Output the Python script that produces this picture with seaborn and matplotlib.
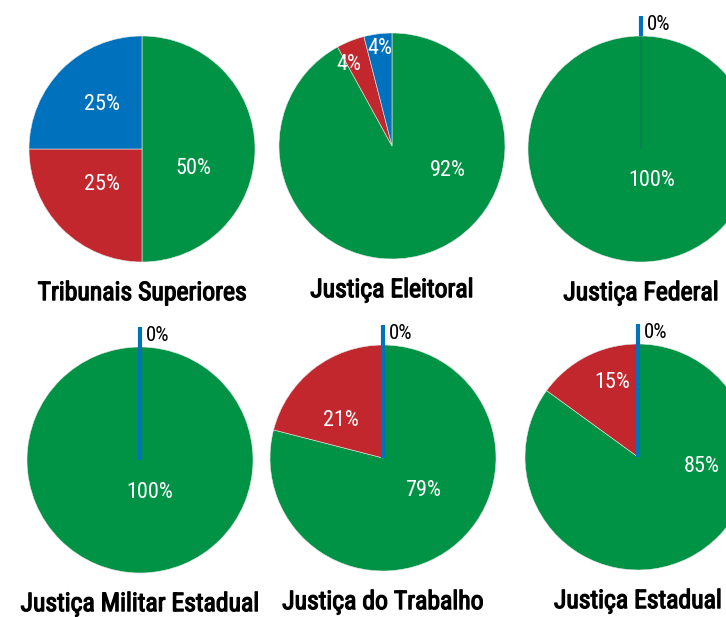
import numpy as np
import matplotlib
matplotlib.use("Agg")
import matplotlib.pyplot as plt
import matplotlib.patheffects as pe
from matplotlib import font_manager as fm
import seaborn as sns

# dados
tribunais = ['Tribunais Superiores', 'Justiça Eleitoral', 'Justiça Federal',
             'Justiça Militar Estadual', 'Justiça do Trabalho', 'Justiça Estadual']
verde = [50, 92, 100, 100, 79, 85]
vermelho = [25, 4, 0, 0, 21, 15]
azul = [25, 4, 0, 0, 0, 0]

cores = ['#009245', '#C1272D', '#0071BC']

sns.set_theme(style='white')

# procura uma fonte estreita instalada
estreitas = [f for f in fm.fontManager.ttflist
             if f.stretch in ('condensed', 'semi-condensed', 'extra-condensed', 'ultra-condensed')
             or 'Narrow' in f.name or 'Condensed' in f.name]
nomes = [f.name for f in estreitas]
if 'Liberation Sans Narrow' in nomes:
    fam, stretch = 'Liberation Sans Narrow', 'normal'
elif 'Roboto Condensed' in nomes:
    fam, stretch = 'Roboto Condensed', 'normal'
elif 'DejaVu Sans' in nomes:
    fam, stretch = 'DejaVu Sans', 'condensed'
elif nomes:
    fam, stretch = nomes[0], 'condensed'
else:
    fam, stretch = 'DejaVu Sans', 'normal'
plt.rcParams['font.family'] = [fam, 'DejaVu Sans']
plt.rcParams['font.stretch'] = stretch

W, H = 726, 617
R = 113.0  # raio em px
centros = [(142, 149), (392, 146), (641, 149), (140, 460), (383, 458), (638, 457)]
# posicao dos rotulos (dx, dy em px a partir do centro), por fatia
rotulos_pos = [
    [(51, -19), (-40, -35), (-40, 45)],
    [(56, -25), (-43, 81), (-12, 97)],
    [(11, -31), None, None],
    [(10, -33), None, None],
    [(40, -32), (-42, 38), None],
    [(64, -10), (-26, 74), None],
]
linha_interna = [True, True, False, True, True, True]

fig = plt.figure(figsize=(W / 100, H / 100), dpi=100)
S = 300.0
lim = S / 2 / R
negrito = [pe.withStroke(linewidth=0.9, foreground='black')]

for i, nome in enumerate(tribunais):
    cx, cy = centros[i]
    ax = fig.add_axes([(cx - S / 2) / W, (H - cy - S / 2) / H, S / W, S / H])
    vals = [verde[i], vermelho[i], azul[i]]
    wedges, _ = ax.pie(vals, colors=cores, startangle=90, counterclock=False,
                       radius=1.0, wedgeprops=dict(edgecolor='#e8e8e8', linewidth=0.4))
    for w in wedges:
        w.set_clip_on(False)
        if w.theta2 - w.theta1 < 1e-6:
            w.set_edgecolor('#1f5f6f')
            w.set_alpha(0.5)

    for j, v in enumerate(vals):
        pos = rotulos_pos[i][j]
        if v > 0 and pos is not None:
            ax.text(pos[0] / R, pos[1] / R, f'{v}%', color='white', fontsize=16,
                    ha='center', va='center')

    # fatia de 0%: linha azul no angulo inicial
    if azul[i] == 0:
        ang = np.deg2rad(90)
        r0 = 0.0 if linha_interna[i] else 1.0
        ax.plot([r0 * np.cos(ang), 1.18 * np.cos(ang)],
                [r0 * np.sin(ang), 1.18 * np.sin(ang)],
                color=cores[2], linewidth=3, solid_capstyle='butt', clip_on=False)
        ax.text(0.05, 1.1, f'{azul[i]}%', color='black', fontsize=15,
                ha='left', va='center')

    ax.text(0, -1.275, nome, color='black', fontsize=18.5,
            ha='center', va='center', clip_on=False, path_effects=negrito)
    ax.set_xlim(-lim, lim)
    ax.set_ylim(-lim, lim)
    ax.set_aspect('equal')
    ax.axis('off')

plt.savefig('out.png', dpi=100)
